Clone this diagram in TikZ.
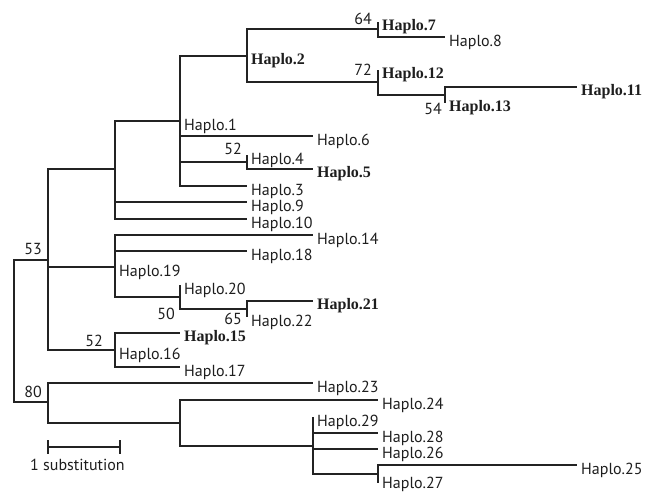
\documentclass[tikz,border=0pt]{standalone}
\usepackage{fontspec}
\setsansfont{PT Sans}
\setmainfont{Liberation Serif}
\usepackage{tikz}
\usetikzlibrary{positioning,calc}
\definecolor{lineclr}{RGB}{35,35,35}
\definecolor{txtclr}{RGB}{30,30,30}
\tikzset{
  br/.style={draw=lineclr,line width=1.3pt},
  tip/.style={anchor=west,inner sep=0pt,xshift=4pt,yshift=-5pt,
              text=txtclr,font=\fontsize{16}{17}\selectfont\sffamily},
  btip/.style={tip,font=\fontsize{16}{17}\selectfont\rmfamily\bfseries},
  boot/.style={anchor=east,inner sep=0pt,text=txtclr,
               font=\fontsize{16}{17}\selectfont\sffamily},
}

\begin{document}
\begin{tikzpicture}[x=1pt,y=-1pt]
\useasboundingbox (0,0) rectangle (645,493);

\coordinate (r) at (14,331);
\coordinate (n53) at (48,260);
\coordinate (na) at (115,169);
\coordinate (n1) at (180,121);
\coordinate (n2) at (247,56);
\coordinate (n64) at (378,29);
\coordinate (h7) at (378,22);
\coordinate (h8) at (445,37);
\coordinate (n72) at (378,82);
\coordinate (h12) at (378,70);
\coordinate (n54) at (445,95);
\coordinate (h11) at (577,87);
\coordinate (h13) at (445,103);
\coordinate (h6) at (313,136);
\coordinate (n52a) at (247,162);
\coordinate (h4) at (247,155);
\coordinate (h5) at (313,169);
\coordinate (h3) at (247,186);
\coordinate (h9) at (247,202);
\coordinate (h10) at (247,219);
\coordinate (n19) at (115,267);
\coordinate (h14) at (313,235);
\coordinate (h18) at (247,251);
\coordinate (n50) at (180,297);
\coordinate (h20) at (180,285);
\coordinate (n65) at (247,309);
\coordinate (h21) at (313,301);
\coordinate (h22) at (247,317);
\coordinate (n16) at (115,350);
\coordinate (h15) at (180,333);
\coordinate (h17) at (180,367);
\coordinate (n80) at (48,402);
\coordinate (h23) at (313,383);
\coordinate (nd) at (180,423);
\coordinate (h24) at (378,400);
\coordinate (ne) at (313,446);
\coordinate (h29) at (313,417);
\coordinate (h28) at (378,433);
\coordinate (h26) at (378,449);
\coordinate (nf) at (378,474);
\coordinate (h25) at (577,465);
\coordinate (h27) at (378,483);

\draw[br] (r) |- (n53); \draw[br] (r) |- (n80);
\draw[br] (n53) |- (na); \draw[br] (n53) |- (n19); \draw[br] (n53) |- (n16);
\draw[br] (na) |- (n1); \draw[br] (na) |- (h9); \draw[br] (na) |- (h10);
\draw[br] (n1) |- (n2); \draw[br] (n1) |- (h6); \draw[br] (n1) |- (n52a); \draw[br] (n1) |- (h3);
\draw[br] (n2) |- (n64); \draw[br] (n2) |- (n72);
\draw[br] (n64) |- (h7); \draw[br] (n64) |- (h8);
\draw[br] (n72) |- (h12); \draw[br] (n72) |- (n54);
\draw[br] (n54) |- (h11); \draw[br] (n54) |- (h13);
\draw[br] (n52a) |- (h4); \draw[br] (n52a) |- (h5);
\draw[br] (n19) |- (h14); \draw[br] (n19) |- (h18); \draw[br] (n19) |- (n50);
\draw[br] (n50) |- (h20); \draw[br] (n50) |- (n65);
\draw[br] (n65) |- (h21); \draw[br] (n65) |- (h22);
\draw[br] (n16) |- (h15); \draw[br] (n16) |- (h17);
\draw[br] (n80) |- (h23); \draw[br] (n80) |- (nd);
\draw[br] (nd) |- (h24); \draw[br] (nd) |- (ne);
\draw[br] (ne) |- (h29); \draw[br] (ne) |- (h28); \draw[br] (ne) |- (h26); \draw[br] (ne) |- (nf);
\draw[br] (nf) |- (h25); \draw[br] (nf) |- (h27);

\node[tip] (l1) at (n1) {Haplo.1};
\node[btip] (l2) at (n2) {Haplo.2};
\node[btip] (l7) at (h7) {Haplo.7};
\node[tip] (l8) at (h8) {Haplo.8};
\node[btip] (l12) at (h12) {Haplo.12};
\node[btip] (l11) at (h11) {Haplo.11};
\node[btip] (l13) at (h13) {Haplo.13};
\node[tip] (l6) at (h6) {Haplo.6};
\node[tip] (l4) at (h4) {Haplo.4};
\node[btip] (l5) at (h5) {Haplo.5};
\node[tip] (l3) at (h3) {Haplo.3};
\node[tip] (l9) at (h9) {Haplo.9};
\node[tip] (l10) at (h10) {Haplo.10};
\node[tip] (l14) at (h14) {Haplo.14};
\node[tip] (l18) at (h18) {Haplo.18};
\node[tip] (l19) at (n19) {Haplo.19};
\node[tip] (l20) at (h20) {Haplo.20};
\node[btip] (l21) at (h21) {Haplo.21};
\node[tip] (l22) at (h22) {Haplo.22};
\node[btip] (l15) at (h15) {Haplo.15};
\node[tip] (l16) at (n16) {Haplo.16};
\node[tip] (l17) at (h17) {Haplo.17};
\node[tip] (l23) at (h23) {Haplo.23};
\node[tip] (l24) at (h24) {Haplo.24};
\node[tip] (l29) at (h29) {Haplo.29};
\node[tip] (l28) at (h28) {Haplo.28};
\node[tip] (l26) at (h26) {Haplo.26};
\node[tip] (l25) at (h25) {Haplo.25};
\node[tip,yshift=4pt] (l27) at (h27) {Haplo.27};

\node[boot] (b64) at ([shift={(-6,-3)}]h7) {64};
\node[boot] (b72) at ([shift={(-6,0)}]h12) {72};
\node[boot] (b54) at ([shift={(-3,6)}]h13) {54};
\node[boot] (b52a) at ([shift={(-5,-6)}]h4) {52};
\node[boot] (b50) at ([shift={(-5,17)}]n50) {50};
\node[boot] (b65) at ([shift={(-5,2)}]h22) {65};
\node[boot] (b53) at ([shift={(-6,-11)}]n53) {53};
\node[boot] (b52c) at ([shift={(-12,-9)}]n16) {52};
\node[boot] (b80) at ([shift={(-6,-10)}]n80) {80};

\coordinate (sba) at (48,447);
\coordinate (sbb) at (120,447);
\draw[br] (sba) -- (sbb);
\draw[br] ([yshift=7pt]sba) -- ([yshift=-7pt]sba);
\draw[br] ([yshift=7pt]sbb) -- ([yshift=-7pt]sbb);
\node[boot,anchor=west] (sblab) at ([shift={(-18,18)}]sba) {1 substitution};
\end{tikzpicture}
\end{document}
